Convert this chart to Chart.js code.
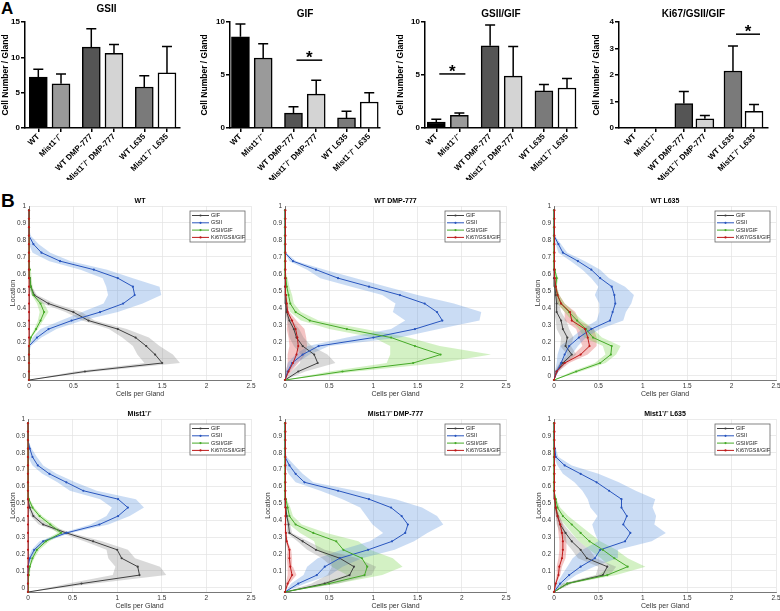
<!DOCTYPE html>
<html>
<head>
<meta charset="utf-8">
<title>Mist1 figure</title>
<script src="https://cdn.jsdelivr.net/npm/chart.js@4.4.1/dist/chart.umd.min.js"></script>
<style>
  body { margin: 0; background: #fff; }
  #fig { position: relative; width: 780px; height: 611px; overflow: hidden; font-family: "Liberation Sans", Arial, sans-serif; }
  #fig canvas { position: absolute; }
  .panel { position: absolute; font-weight: bold; line-height: 1; }
</style>
</head>
<body>
<div id="fig">
  <div class="panel" style="left:1px;top:0px;font-size:17px">A</div>
  <div class="panel" style="left:1px;top:191px;font-size:19px">B</div>

  <canvas id="barGsii" width="190" height="180" style="left:0px;top:0px"></canvas>
  <canvas id="barGif" width="195" height="180" style="left:190px;top:0px"></canvas>
  <canvas id="barRatio" width="195" height="180" style="left:385px;top:0px"></canvas>
  <canvas id="barKi" width="200" height="180" style="left:580px;top:0px"></canvas>

  <canvas id="profWT" width="258" height="208" style="left:0px;top:190px"></canvas>
  <canvas id="profDmp" width="258" height="208" style="left:255px;top:190px"></canvas>
  <canvas id="profL635" width="265" height="208" style="left:515px;top:190px"></canvas>
  <canvas id="profM" width="258" height="207" style="left:0px;top:403px"></canvas>
  <canvas id="profMDmp" width="258" height="207" style="left:255px;top:403px"></canvas>
  <canvas id="profML635" width="265" height="207" style="left:515px;top:403px"></canvas>
</div>
<script>
// ---- panel A: counts per gland (mean and SEM) ----
const groups = ['WT', 'Mist1\u207B/\u207B', 'WT DMP-777', 'Mist1\u207B/\u207B DMP-777', 'WT L635', 'Mist1\u207B/\u207B L635'];

const gsiiMean = [7.2, 6.25, 11.45, 10.55, 5.8, 7.8];
const gsiiSem = [1.1, 1.4, 2.6, 1.25, 1.6, 3.75];
const gifMean = [8.6, 6.6, 1.4, 3.2, 0.95, 2.45];
const gifSem = [1.2, 1.35, 0.6, 1.3, 0.63, 0.87];
const ratioMean = [0.57, 1.2, 7.75, 4.9, 3.5, 3.77];
const ratioSem = [0.25, 0.22, 1.97, 2.8, 0.6, 0.91];
const kiMean = [0, 0, 0.92, 0.35, 2.15, 0.63];
const kiSem = [0, 0, 0.46, 0.12, 0.94, 0.26];

// ---- panel B: distribution along the gland ----
const glandLoc = [-0.025, 0.025, 0.075, 0.125, 0.175, 0.225, 0.275, 0.325, 0.375, 0.425, 0.475,
  0.525, 0.575, 0.625, 0.675, 0.725, 0.775, 0.825, 0.875, 0.925, 0.975];

// WT
const wtGif = [0, 0.63, 1.5, 1.42, 1.32, 1.2, 1.0, 0.67, 0.5, 0.22, 0.06, 0.02, 0.01, 0, 0, 0, 0, 0, 0, 0, 0];
const wtGifSem = [0, 0.12, 0.2, 0.2, 0.15, 0.15, 0.1, 0.07, 0.09, 0.07, 0.03, 0.01, 0.01, 0, 0, 0, 0, 0, 0, 0, 0];
const wtGsii = [0, 0, 0, 0, 0, 0.09, 0.22, 0.48, 0.8, 1.06, 1.19, 1.17, 1.0, 0.73, 0.35, 0.14, 0.05, 0, 0, 0, 0];
const wtGsiiSem = [0, 0, 0, 0, 0.02, 0.05, 0.09, 0.12, 0.2, 0.22, 0.3, 0.3, 0.17, 0.15, 0.12, 0.1, 0.06, 0.02, 0, 0, 0];
const wtRatio = [0, 0, 0, 0, 0, 0.02, 0.08, 0.13, 0.17, 0.13, 0.05, 0.02, 0.01, 0.01, 0, 0, 0, 0, 0, 0, 0];
const wtRatioSem = [0, 0, 0, 0, 0, 0.01, 0.02, 0.03, 0.05, 0.04, 0.02, 0.02, 0.02, 0.01, 0, 0, 0, 0, 0, 0, 0];
const wtKi = [0, 0, 0, 0, 0, 0, 0, 0, 0, 0, 0, 0, 0, 0, 0, 0, 0, 0, 0, 0, 0];
const wtKiSem = [0, 0, 0, 0, 0, 0, 0, 0, 0, 0, 0, 0, 0, 0, 0, 0, 0, 0, 0, 0, 0];

// WT DMP-777
const dmpGif = [0, 0.15, 0.37, 0.33, 0.2, 0.13, 0.1, 0.05, 0.02, 0.01, 0.01, 0, 0, 0, 0, 0, 0, 0, 0, 0, 0];
const dmpGifSem = [0, 0.08, 0.2, 0.15, 0.1, 0.08, 0.06, 0.03, 0.02, 0.01, 0, 0, 0, 0, 0, 0, 0, 0, 0, 0, 0];
const dmpGsii = [0, 0.03, 0.08, 0.2, 0.38, 1.0, 1.47, 1.78, 1.72, 1.58, 1.3, 0.95, 0.6, 0.35, 0.09, 0, 0, 0, 0, 0, 0];
const dmpGsiiSem = [0, 0.02, 0.05, 0.08, 0.12, 0.3, 0.27, 0.42, 0.5, 0.33, 0.2, 0.2, 0.2, 0.1, 0.04, 0.01, 0, 0, 0, 0, 0];
const dmpRatio = [0, 0.65, 1.45, 1.76, 1.47, 1.2, 0.7, 0.28, 0.12, 0.06, 0.04, 0.02, 0.01, 0, 0, 0, 0, 0, 0, 0, 0];
const dmpRatioSem = [0, 0.15, 0.3, 0.57, 0.28, 0.2, 0.2, 0.1, 0.06, 0.04, 0.04, 0.03, 0.02, 0, 0, 0, 0, 0, 0, 0, 0];
const dmpKi = [0, 0.04, 0.09, 0.13, 0.15, 0.14, 0.12, 0.08, 0.03, 0.02, 0.01, 0.005, 0.005, 0.005, 0.005, 0.005, 0.005, 0.005, 0.005, 0.005, 0.005];
const dmpKiSem = [0, 0.03, 0.06, 0.1, 0.1, 0.1, 0.1, 0.05, 0.02, 0.01, 0, 0, 0, 0, 0, 0, 0, 0, 0, 0, 0];

// WT L635
const l635Gif = [0, 0.03, 0.1, 0.2, 0.13, 0.15, 0.1, 0.08, 0.03, 0.03, 0.02, 0.01, 0, 0, 0, 0, 0, 0, 0, 0, 0];
const l635GifSem = [0, 0.02, 0.04, 0.05, 0.06, 0.07, 0.07, 0.06, 0.05, 0.03, 0.02, 0.01, 0, 0, 0, 0, 0, 0, 0, 0, 0];
const l635Gsii = [0, 0.03, 0.08, 0.12, 0.17, 0.28, 0.42, 0.63, 0.66, 0.69, 0.68, 0.65, 0.52, 0.42, 0.27, 0.1, 0.05, 0, 0, 0, 0];
const l635GsiiSem = [0, 0.02, 0.05, 0.08, 0.1, 0.08, 0.1, 0.15, 0.15, 0.18, 0.22, 0.15, 0.1, 0.1, 0.08, 0.05, 0.03, 0.01, 0, 0, 0];
const l635Ratio = [0, 0.25, 0.52, 0.64, 0.65, 0.44, 0.36, 0.26, 0.17, 0.08, 0.04, 0.02, 0.03, 0.01, 0, 0, 0, 0, 0, 0, 0];
const l635RatioSem = [0, 0.05, 0.06, 0.06, 0.1, 0.1, 0.08, 0.06, 0.05, 0.04, 0.02, 0.01, 0.02, 0, 0, 0, 0, 0, 0, 0, 0];
const l635Ki = [0, 0.03, 0.12, 0.3, 0.4, 0.38, 0.35, 0.2, 0.18, 0.08, 0.04, 0.02, 0.01, 0.005, 0.005, 0.005, 0.005, 0.005, 0.005, 0.005, 0.005];
const l635KiSem = [0, 0.02, 0.05, 0.08, 0.08, 0.1, 0.1, 0.08, 0.06, 0.04, 0.02, 0.01, 0, 0, 0, 0, 0, 0, 0, 0, 0];

// Mist1-/-
const mGif = [0, 0.6, 1.25, 1.23, 1.05, 1.0, 0.73, 0.43, 0.17, 0.06, 0.02, 0, 0, 0, 0, 0, 0, 0, 0, 0, 0];
const mGifSem = [0, 0.15, 0.3, 0.25, 0.15, 0.12, 0.1, 0.06, 0.05, 0.03, 0.01, 0, 0, 0, 0, 0, 0, 0, 0, 0, 0];
const mGsii = [0, 0, 0, 0, 0.02, 0.07, 0.17, 0.43, 0.8, 1.01, 1.12, 1.01, 0.62, 0.43, 0.24, 0.11, 0.05, 0.02, 0, 0, 0];
const mGsiiSem = [0, 0, 0, 0, 0.02, 0.03, 0.04, 0.05, 0.1, 0.13, 0.18, 0.2, 0.15, 0.1, 0.08, 0.06, 0.05, 0.02, 0, 0, 0];
const mRatio = [0, 0, 0.01, 0.02, 0.05, 0.1, 0.2, 0.37, 0.25, 0.13, 0.05, 0.01, 0, 0, 0, 0, 0, 0, 0, 0, 0];
const mRatioSem = [0, 0, 0.01, 0.01, 0.02, 0.03, 0.04, 0.04, 0.04, 0.03, 0.02, 0.01, 0, 0, 0, 0, 0, 0, 0, 0, 0];
const mKi = [0, 0, 0, 0, 0, 0, 0, 0, 0, 0, 0, 0, 0, 0, 0, 0, 0, 0, 0, 0, 0];
const mKiSem = [0, 0, 0, 0, 0, 0, 0, 0, 0, 0, 0, 0, 0, 0, 0, 0, 0, 0, 0, 0, 0];

// Mist1-/- DMP-777
const mDmpGif = [0, 0.45, 0.73, 0.78, 0.62, 0.35, 0.2, 0.05, 0.04, 0.02, 0.01, 0, 0, 0, 0, 0, 0, 0, 0, 0, 0];
const mDmpGifSem = [0, 0.15, 0.25, 0.25, 0.2, 0.1, 0.06, 0.03, 0.02, 0.01, 0, 0, 0, 0, 0, 0, 0, 0, 0, 0, 0];
const mDmpGsii = [0, 0.15, 0.36, 0.45, 0.62, 0.94, 1.21, 1.36, 1.39, 1.32, 1.2, 0.95, 0.6, 0.22, 0.12, 0.05, 0, 0, 0, 0, 0];
const mDmpGsiiSem = [0, 0.08, 0.15, 0.2, 0.25, 0.3, 0.25, 0.25, 0.4, 0.4, 0.35, 0.3, 0.2, 0.1, 0.08, 0.06, 0.02, 0, 0, 0, 0];
const mDmpRatio = [0, 0.5, 0.9, 0.93, 0.87, 0.66, 0.58, 0.32, 0.12, 0.05, 0.03, 0.01, 0, 0, 0, 0, 0, 0, 0, 0, 0];
const mDmpRatioSem = [0, 0.1, 0.2, 0.4, 0.35, 0.3, 0.25, 0.15, 0.07, 0.04, 0.03, 0.01, 0, 0, 0, 0, 0, 0, 0, 0, 0];
const mDmpKi = [0, 0.03, 0.08, 0.06, 0.05, 0.05, 0.02, 0.01, 0.005, 0.005, 0.005, 0.005, 0.005, 0.005, 0.005, 0.005, 0.005, 0.005, 0.005, 0.005, 0.005];
const mDmpKiSem = [0, 0.02, 0.05, 0.03, 0.03, 0.02, 0.01, 0.01, 0, 0, 0, 0, 0, 0, 0, 0, 0, 0, 0, 0, 0];

// Mist1-/- L635
const mL635Gif = [0, 0.15, 0.55, 0.6, 0.37, 0.3, 0.2, 0.13, 0.07, 0.04, 0.02, 0.01, 0, 0, 0, 0, 0, 0, 0, 0, 0];
const mL635GifSem = [0, 0.05, 0.08, 0.1, 0.1, 0.1, 0.08, 0.06, 0.04, 0.02, 0.01, 0, 0, 0, 0, 0, 0, 0, 0, 0, 0];
const mL635Gsii = [0, 0.07, 0.17, 0.3, 0.46, 0.52, 0.8, 0.86, 0.78, 0.82, 0.76, 0.76, 0.62, 0.48, 0.3, 0.12, 0.02, 0.01, 0, 0, 0];
const mL635GsiiSem = [0, 0.04, 0.08, 0.15, 0.25, 0.2, 0.3, 0.4, 0.35, 0.33, 0.35, 0.38, 0.3, 0.25, 0.2, 0.08, 0.03, 0.01, 0, 0, 0];
const mL635Ratio = [0, 0.15, 0.6, 0.83, 0.68, 0.55, 0.4, 0.3, 0.2, 0.1, 0.04, 0.02, 0, 0, 0, 0, 0, 0, 0, 0, 0];
const mL635RatioSem = [0, 0.05, 0.1, 0.2, 0.15, 0.15, 0.12, 0.1, 0.08, 0.06, 0.03, 0.01, 0, 0, 0, 0, 0, 0, 0, 0, 0];
const mL635Ki = [0, 0.02, 0.05, 0.06, 0.09, 0.1, 0.1, 0.09, 0.07, 0.04, 0.02, 0.01, 0.005, 0.005, 0.005, 0.005, 0.005, 0.005, 0.005, 0.005, 0.005];
const mL635KiSem = [0, 0.01, 0.02, 0.03, 0.04, 0.04, 0.04, 0.04, 0.03, 0.02, 0.01, 0, 0, 0, 0, 0, 0, 0, 0, 0, 0];

// ---- styling ----
const FONT = '"Liberation Sans", Arial, sans-serif';
Chart.defaults.font.family = FONT;
Chart.defaults.color = '#000';
Chart.defaults.plugins.legend.display = false;
Chart.defaults.plugins.tooltip.enabled = false;

const barFills = ['#000000', '#9a9a9a', '#555555', '#d4d4d4', '#7a7a7a', '#ffffff'];
// bars come in pairs with a wider gap between pairs
const barPos = groups.map((g, i) => i + Math.floor(i / 2) / 3);

const traceStyles = [
  { label: 'GIF', line: 'rgb(64,64,64)', band: 'rgba(120,120,120,0.28)' },
  { label: 'GSII', line: 'rgb(40,85,190)', band: 'rgba(80,140,220,0.3)' },
  { label: 'GSII/GIF', line: 'rgb(70,170,40)', band: 'rgba(110,210,60,0.3)' },
  { label: 'Ki67/GSII/GIF', line: 'rgb(190,25,25)', band: 'rgba(220,60,60,0.3)' }
];

const panelTitle = {
  id: 'panelTitle',
  afterDraw(chart, args, o) {
    const { ctx, chartArea: ca } = chart;
    ctx.save();
    ctx.font = 'bold ' + o.size + 'px ' + FONT;
    ctx.fillStyle = '#000';
    ctx.textAlign = 'center';
    ctx.textBaseline = 'middle';
    ctx.fillText(o.text, (ca.left + ca.right) / 2 + (o.dx || 0), ca.top + o.dy);
    ctx.restore();
  }
};

const errBars = {
  id: 'errBars',
  afterDatasetsDraw(chart) {
    const { ctx, scales: { y } } = chart;
    const ds = chart.data.datasets[0];
    const meta = chart.getDatasetMeta(0);
    ctx.save();
    ctx.strokeStyle = '#000';
    ctx.lineWidth = 1.5;
    ds.sem.forEach((s, i) => {
      if (!s) return;
      const x = meta.data[i].x;
      const y0 = y.getPixelForValue(ds.data[i].y);
      const y1 = y.getPixelForValue(ds.data[i].y + s);
      ctx.beginPath();
      ctx.moveTo(x, y0); ctx.lineTo(x, y1);
      ctx.moveTo(x - 5, y1); ctx.lineTo(x + 5, y1);
      ctx.stroke();
    });
    ctx.restore();
  }
};

const sigBar = {
  id: 'sigBar',
  afterDraw(chart, args, o) {
    if (o.level === undefined) return;
    const { ctx, scales: { x, y } } = chart;
    const x1 = x.getPixelForValue(barPos[o.from]) + 3;
    const x2 = x.getPixelForValue(barPos[o.to]) + 6;
    const yy = y.getPixelForValue(o.level);
    ctx.save();
    ctx.strokeStyle = '#000';
    ctx.lineWidth = 1.5;
    ctx.beginPath(); ctx.moveTo(x1, yy); ctx.lineTo(x2, yy); ctx.stroke();
    ctx.fillStyle = '#000';
    ctx.font = 'bold 17px ' + FONT;
    ctx.textAlign = 'center';
    ctx.textBaseline = 'alphabetic';
    ctx.fillText('*', (x1 + x2) / 2, yy + 3);
    ctx.restore();
  }
};

const boxLegend = {
  id: 'boxLegend',
  afterDraw(chart) {
    const { ctx, chartArea: ca } = chart;
    const w = 55, h = 31;
    const bx = ca.right - 6 - w, by = ca.top + 5;
    ctx.save();
    ctx.fillStyle = '#fff';
    ctx.fillRect(bx, by, w, h);
    ctx.strokeStyle = '#666';
    ctx.lineWidth = 0.8;
    ctx.strokeRect(bx, by, w, h);
    ctx.font = '5.5px ' + FONT;
    ctx.textAlign = 'left';
    ctx.textBaseline = 'middle';
    traceStyles.forEach((st, k) => {
      const yy = by + 4.5 + k * 7.3;
      ctx.strokeStyle = st.line;
      ctx.lineWidth = 1;
      ctx.beginPath(); ctx.moveTo(bx + 2, yy); ctx.lineTo(bx + 19, yy); ctx.stroke();
      ctx.fillStyle = st.line;
      ctx.beginPath(); ctx.arc(bx + 10.5, yy, 1.1, 0, Math.PI * 2); ctx.fill();
      ctx.fillStyle = '#222';
      ctx.fillText(st.label, bx + 21, yy);
    });
    ctx.restore();
  }
};

function drawBars(id, o) {
  new Chart(document.getElementById(id), {
    type: 'bar',
    data: {
      datasets: [{
        data: o.mean.map((v, i) => ({ x: barPos[i], y: v })),
        sem: o.sem,
        backgroundColor: barFills,
        borderColor: '#000',
        borderWidth: 1.5,
        barThickness: 18
      }]
    },
    options: {
      responsive: false,
      animation: false,
      layout: { padding: { top: 22, right: o.padR, left: 0, bottom: 0 } },
      scales: {
        x: {
          type: 'linear', min: o.xMin, max: o.xMax, offset: false,
          afterBuildTicks: s => { s.ticks = barPos.map(v => ({ value: v })); },
          afterFit: s => { s.height = 52; s.paddingLeft = 0; s.paddingRight = 0; },
          ticks: {
            autoSkip: false, minRotation: 45, maxRotation: 45, padding: 0,
            font: { size: 8, weight: 'bold' },
            callback: (v, i) => groups[i]
          },
          grid: { drawOnChartArea: false, offset: false, color: '#000', lineWidth: 1.5, tickLength: 4 },
          border: { color: '#000', width: 1.5 }
        },
        y: {
          min: 0, max: o.yMax,
          afterFit: s => { s.width = o.axisW; s.paddingTop = 0; s.paddingBottom = 0; },
          ticks: { stepSize: o.step, padding: 1, font: { size: 8, weight: 'bold' } },
          grid: { drawOnChartArea: false, color: '#000', lineWidth: 1.5, tickLength: 4 },
          border: { color: '#000', width: 1.5 },
          title: {
            display: true, text: 'Cell Number / Gland',
            font: { size: 8.5, weight: 'bold' },
            padding: { top: o.titlePad, bottom: 0 }
          }
        }
      },
      plugins: {
        sigBar: o.sig || {},
        panelTitle: { text: o.title, dy: o.titleDy, dx: o.titleDx || 0, size: 10 }
      }
    },
    plugins: [errBars, sigBar, panelTitle]
  });
}

function drawProfile(id, o) {
  const pts = arr => glandLoc.map((l, i) => ({ x: arr[i], y: l }));
  const lines = [];
  const bands = [];
  o.traces.forEach((t, k) => {
    const st = traceStyles[k];
    const mean = t[0], sem = t[1];
    lines.unshift({
      label: st.label, data: pts(mean),
      borderColor: st.line, backgroundColor: st.line,
      borderWidth: 1, pointRadius: 1.1, pointBorderWidth: 0, fill: false, clip: 4
    });
    bands.push(
      { data: pts(mean.map((m, i) => Math.max(0, m - sem[i]))), borderWidth: 0, pointRadius: 0, fill: false },
      { data: pts(mean.map((m, i) => m + sem[i])), borderWidth: 0, pointRadius: 0, backgroundColor: st.band, fill: '-1' }
    );
  });

  new Chart(document.getElementById(id), {
    type: 'line',
    data: { datasets: lines.concat(bands) },
    options: {
      responsive: false,
      animation: false,
      indexAxis: 'y',
      layout: { padding: { top: 16, right: o.padR, left: 0, bottom: 0 } },
      scales: {
        x: {
          type: 'linear', min: 0, max: 2.5,
          afterFit: s => { s.height = 18; s.paddingLeft = 0; s.paddingRight = 0; },
          ticks: { stepSize: 0.5, padding: 2, color: '#333', font: { size: 6.5 }, callback: v => String(+v.toFixed(2)) },
          grid: { color: '#e3e3e3', lineWidth: 0.7, drawTicks: false },
          border: { color: '#555', width: 0.8 },
          title: { display: true, text: 'Cells per Gland', color: '#333', font: { size: 7 }, padding: 0 }
        },
        y: {
          type: 'linear', min: -0.025, max: 1,
          afterFit: s => { s.width = o.axisW; s.paddingTop = 0; s.paddingBottom = 0; },
          ticks: {
            stepSize: 0.1, includeBounds: false, padding: 3, color: '#333', font: { size: 6.5 },
            callback: v => String(Math.round(v * 10) / 10)
          },
          grid: { color: '#e3e3e3', lineWidth: 0.7, drawTicks: false },
          border: { color: '#555', width: 0.8 },
          title: {
            display: o.yTitle, text: 'Location', color: '#333', font: { size: 7 },
            padding: { top: o.titlePad || 0, bottom: 0 }
          }
        }
      },
      plugins: {
        panelTitle: { text: o.title, dy: -4.5, size: 7 }
      }
    },
    plugins: [panelTitle, boxLegend]
  });
}

// panel A
drawBars('barGsii', { title: 'GSII', mean: gsiiMean, sem: gsiiSem, yMax: 15, step: 5,
  xMin: -0.586, xMax: 6.24, axisW: 25, padR: 10, titlePad: 1, titleDy: -12.5, titleDx: 4 });
drawBars('barGif', { title: 'GIF', mean: gifMean, sem: gifSem, yMax: 10, step: 5,
  xMin: -0.46, xMax: 6.14, axisW: 40, padR: 5, titlePad: 10, titleDy: -7.5,
  sig: { from: 2, to: 3, level: 6.4 } });
drawBars('barRatio', { title: 'GSII/GIF', mean: ratioMean, sem: ratioSem, yMax: 10, step: 5,
  xMin: -0.49, xMax: 6.1, axisW: 40, padR: 3, titlePad: 11, titleDy: -7.5,
  sig: { from: 0, to: 1, level: 5.1 } });
drawBars('barKi', { title: 'Ki67/GSII/GIF', mean: kiMean, sem: kiSem, yMax: 4, step: 1,
  xMin: -0.745, xMax: 6.33, axisW: 39, padR: 12, titlePad: 12, titleDy: -7.5,
  sig: { from: 4, to: 5, level: 3.54 } });

// panel B
drawProfile('profWT', { title: 'WT', axisW: 29, padR: 7, yTitle: true, titlePad: 9,
  traces: [[wtGif, wtGifSem], [wtGsii, wtGsiiSem], [wtRatio, wtRatioSem], [wtKi, wtKiSem]] });
drawProfile('profDmp', { title: 'WT DMP-777', axisW: 30, padR: 7, yTitle: false,
  traces: [[dmpGif, dmpGifSem], [dmpGsii, dmpGsiiSem], [dmpRatio, dmpRatioSem], [dmpKi, dmpKiSem]] });
drawProfile('profL635', { title: 'WT L635', axisW: 39, padR: 4, yTitle: true, titlePad: 19,
  traces: [[l635Gif, l635GifSem], [l635Gsii, l635GsiiSem], [l635Ratio, l635RatioSem], [l635Ki, l635KiSem]] });
drawProfile('profM', { title: 'Mist1\u207B/\u207B', axisW: 28, padR: 7, yTitle: true, titlePad: 9,
  traces: [[mGif, mGifSem], [mGsii, mGsiiSem], [mRatio, mRatioSem], [mKi, mKiSem]] });
drawProfile('profMDmp', { title: 'Mist1\u207B/\u207B DMP-777', axisW: 30, padR: 7, yTitle: true, titlePad: 9,
  traces: [[mDmpGif, mDmpGifSem], [mDmpGsii, mDmpGsiiSem], [mDmpRatio, mDmpRatioSem], [mDmpKi, mDmpKiSem]] });
drawProfile('profML635', { title: 'Mist1\u207B/\u207B L635', axisW: 39, padR: 4, yTitle: true, titlePad: 20,
  traces: [[mL635Gif, mL635GifSem], [mL635Gsii, mL635GsiiSem], [mL635Ratio, mL635RatioSem], [mL635Ki, mL635KiSem]] });
</script>
</body>
</html>
